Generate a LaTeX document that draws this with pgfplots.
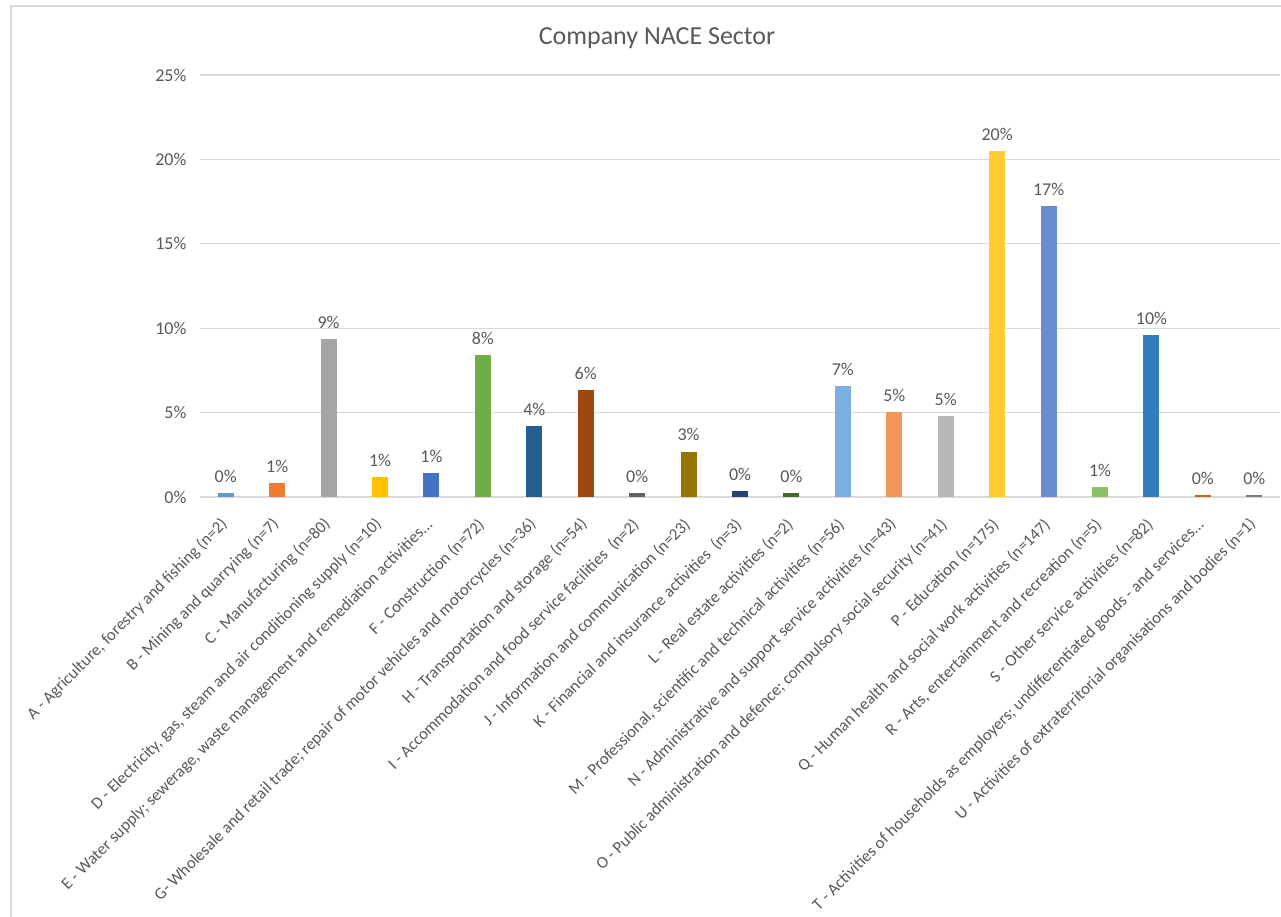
\documentclass[border=0pt]{standalone}
\usepackage{pgfplots}
\pgfplotsset{compat=1.18}
\usepackage{fontspec}
\setmainfont{Carlito}
\newcommand\ddd{...}
\definecolor{txt}{HTML}{595959}
\definecolor{gridc}{HTML}{D9D9D9}
\definecolor{cA}{HTML}{5B9BD5}
\definecolor{cB}{HTML}{ED7D31}
\definecolor{cC}{HTML}{A5A5A5}
\definecolor{cD}{HTML}{FFC000}
\definecolor{cE}{HTML}{4472C4}
\definecolor{cF}{HTML}{70AD47}
\definecolor{cG}{HTML}{255E91}
\definecolor{cH}{HTML}{9E480E}
\definecolor{cI}{HTML}{636363}
\definecolor{cJ}{HTML}{997300}
\definecolor{cK}{HTML}{264478}
\definecolor{cL}{HTML}{43682B}
\definecolor{cM}{HTML}{7CAFDD}
\definecolor{cN}{HTML}{F1975A}
\definecolor{cO}{HTML}{B7B7B7}
\definecolor{cP}{HTML}{FFCD33}
\definecolor{cQ}{HTML}{698ED0}
\definecolor{cR}{HTML}{8CC168}
\definecolor{cS}{HTML}{327DC2}
\definecolor{cT}{HTML}{D26012}
\definecolor{cU}{HTML}{7C7C7C}
\begin{document}
\begin{tikzpicture}[x=1pt,y=1pt]
\fill[white] (0,0) rectangle (1281,917);
\useasboundingbox (0,0) rectangle (1281,917);
\draw[gridc, line width=1.5pt] (11,0) -- (11,911) -- (1281,911);
\node[font=\fontsize{26}{30}\selectfont, text=txt] at (657,879) {Company NACE Sector};
\begin{axis}[
  at={(200pt,420pt)}, anchor=south west,
  scale only axis, width=1080pt, height=422pt,
  xmin=-0.5, xmax=20.5, ymin=0, ymax=25,
  ybar, bar width=16pt,
  axis line style={draw=none},
  major tick length=0pt, tick style={draw=none},
  ymajorgrids, xmajorgrids=false, grid style={draw=gridc, line width=1.2pt},
  ytick={0,5,10,15,20,25},
  yticklabels={0\%,5\%,10\%,15\%,20\%,25\%},
  yticklabel style={font=\fontsize{18}{21}\selectfont, text=txt, xshift=-10pt},
  xtick={0,1,2,3,4,5,6,7,8,9,10,11,12,13,14,15,16,17,18,19,20},
  xticklabels={
    {A - Agriculture, forestry and fishing (n=2)},
    {B - Mining and quarrying (n=7)},
    {C - Manufacturing (n=80)},
    {D - Electricity, gas, steam and air conditioning supply (n=10)},
    {E - Water supply; sewerage, waste management and remediation activities\ddd},
    {F - Construction (n=72)},
    {G- Wholesale and retail trade; repair of motor vehicles and motorcycles (n=36)},
    {H - Transportation and storage (n=54)},
    {I - Accommodation and food service facilities\ \ (n=2)},
    {J - Information and communication (n=23)},
    {K - Financial and insurance activities\ \ (n=3)},
    {L - Real estate activities (n=2)},
    {M - Professional, scientific and technical activities (n=56)},
    {N - Administrative and support service activities (n=43)},
    {O - Public administration and defence; compulsory social security (n=41)},
    {P - Education (n=175)},
    {Q - Human health and social work activities (n=147)},
    {R - Arts, entertainment and recreation (n=5)},
    {S - Other service activities (n=82)},
    {T - Activities of households as employers; undifferentiated goods - and services\ddd},
    {U - Activities of extraterritorial organisations and bodies (n=1)}},
  xticklabel style={font=\fontsize{16.7}{20}\selectfont, text=txt, xshift=1.5pt, yshift=-22.5pt, rotate=45, anchor=east},
  nodes near coords={\pgfmathprintnumber[fixed,precision=0]{\pgfplotspointmeta}\%},
  nodes near coords style={font=\fontsize{18}{21}\selectfont, text=txt, yshift=7pt},
  /pgf/number format/assume math mode=true,
  clip=false,
]
\addplot[fill=cA, draw=none, bar shift=0pt] coordinates {(0,0.234)};
\addplot[fill=cB, draw=none, bar shift=0pt] coordinates {(1,0.82)};
\addplot[fill=cC, draw=none, bar shift=0pt] coordinates {(2,9.37)};
\addplot[fill=cD, draw=none, bar shift=0pt] coordinates {(3,1.17)};
\addplot[fill=cE, draw=none, bar shift=0pt] coordinates {(4,1.41)};
\addplot[fill=cF, draw=none, bar shift=0pt] coordinates {(5,8.43)};
\addplot[fill=cG, draw=none, bar shift=0pt] coordinates {(6,4.22)};
\addplot[fill=cH, draw=none, bar shift=0pt] coordinates {(7,6.32)};
\addplot[fill=cI, draw=none, bar shift=0pt] coordinates {(8,0.234)};
\addplot[fill=cJ, draw=none, bar shift=0pt] coordinates {(9,2.69)};
\addplot[fill=cK, draw=none, bar shift=0pt] coordinates {(10,0.35)};
\addplot[fill=cL, draw=none, bar shift=0pt] coordinates {(11,0.234)};
\addplot[fill=cM, draw=none, bar shift=0pt] coordinates {(12,6.56)};
\addplot[fill=cN, draw=none, bar shift=0pt] coordinates {(13,5.04)};
\addplot[fill=cO, draw=none, bar shift=0pt] coordinates {(14,4.80)};
\addplot[fill=cP, draw=none, bar shift=0pt] coordinates {(15,20.49)};
\addplot[fill=cQ, draw=none, bar shift=0pt] coordinates {(16,17.21)};
\addplot[fill=cR, draw=none, bar shift=0pt] coordinates {(17,0.59)};
\addplot[fill=cS, draw=none, bar shift=0pt] coordinates {(18,9.60)};
\addplot[fill=cT, draw=none, bar shift=0pt] coordinates {(19,0.117)};
\addplot[fill=cU, draw=none, bar shift=0pt] coordinates {(20,0.117)};
\end{axis}
\end{tikzpicture}
\end{document}
